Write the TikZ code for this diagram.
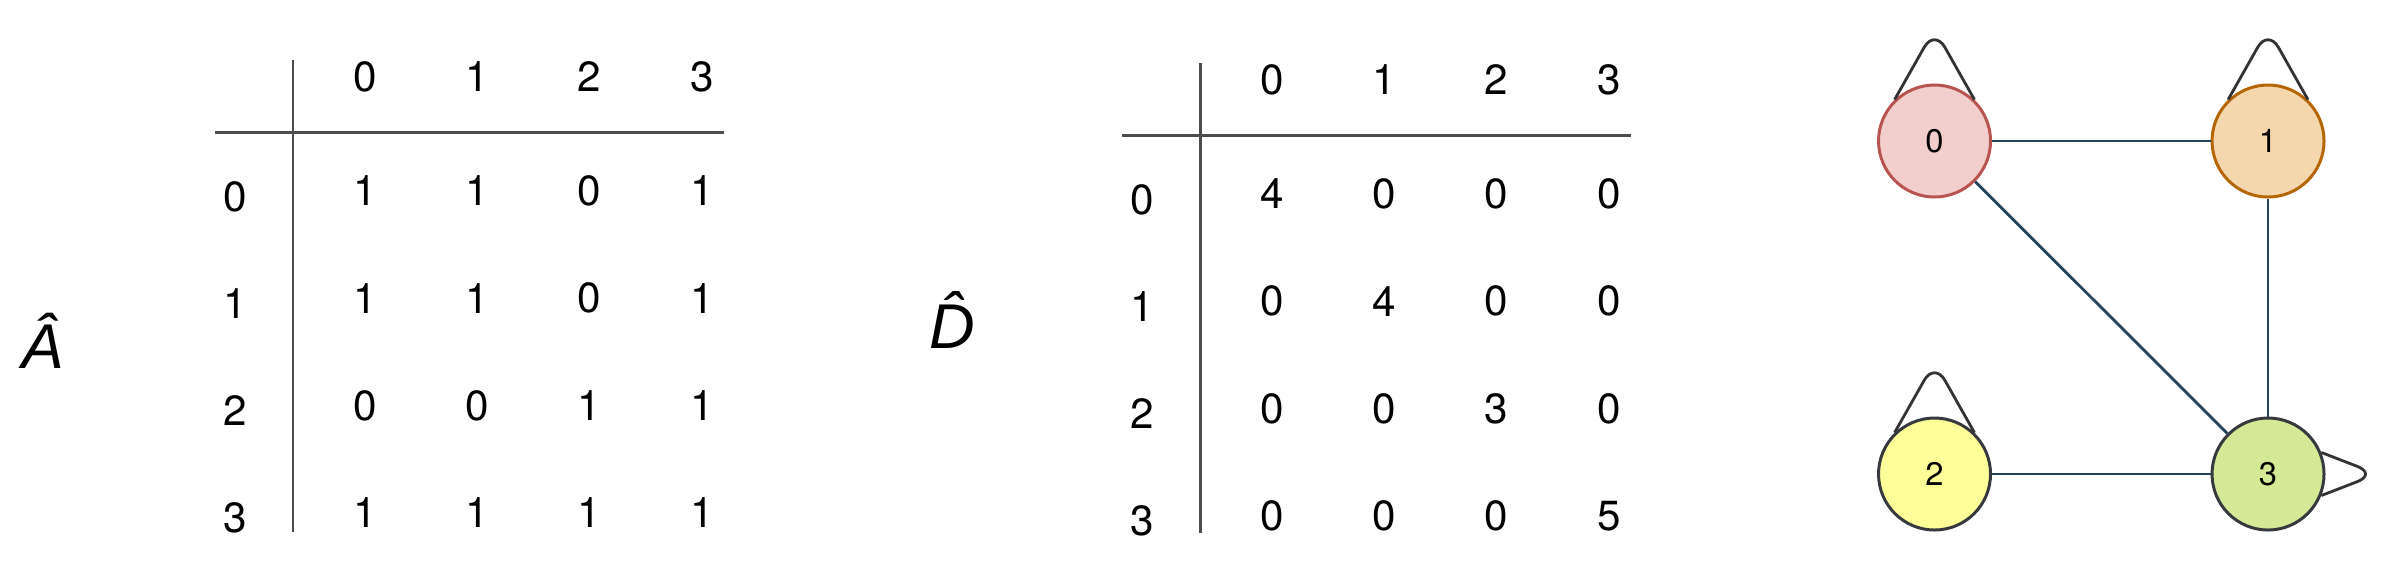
\documentclass[tikz,border=0pt]{standalone}
\usepackage{fontspec}
\setmainfont{TeX Gyre Heros}
\newfontfamily\hatfont{Liberation Sans}
\usetikzlibrary{calc}

\definecolor{edgeblue}{HTML}{23445D}
\definecolor{loopgray}{HTML}{333333}
\definecolor{rulegray}{HTML}{4D4D4D}
\definecolor{redfill}{HTML}{F2CFCC}
\definecolor{reddraw}{HTML}{B85450}
\definecolor{orangefill}{HTML}{F5D7AD}
\definecolor{orangedraw}{HTML}{B46504}
\definecolor{yellowfill}{HTML}{FFFF99}
\definecolor{greenfill}{HTML}{D4E996}
\definecolor{darkdraw}{HTML}{36393D}

\tikzset{
	cell/.style={inner sep=0pt, font=\fontsize{12}{14}\selectfont},
	matname/.style={inner sep=0pt, anchor=base, font=\fontsize{18}{20}\selectfont\hatfont\itshape},
	rule/.style={draw=rulegray, line width=0.85pt},
	vertex/.style={circle, minimum size=1.12cm, inner sep=0pt, line width=0.85pt, font=\fontsize{9.3}{11}\selectfont},
	edge/.style={draw=edgeblue, line width=0.8pt},
	selfloop/.style={draw=loopgray, line width=0.8pt, rounded corners=6pt},
}

\begin{document}
\begin{tikzpicture}
		\useasboundingbox (0,0) rectangle (24,-5.65);
		
		%%%%% A hat %%%%%
		\node[matname] (Ahat) at (0.43,-3.68) {Â};
		\draw[rule] (2.93,-0.60) -- (2.93,-5.32);
		\draw[rule] (2.15,-1.32) -- (7.24,-1.32);
		\foreach \k in {0,1,2,3} {
			\node[cell] (ahead\k) at ({3.65+1.123*\k},-0.77) {\k};
			\node[cell] (arow\k) at (2.35,{-1.97-1.07*\k}) {\k};
		}
		\foreach \row [count=\r from 0] in {{1,1,0,1},{1,1,0,1},{0,0,1,1},{1,1,1,1}} {
			\foreach \v [count=\c from 0] in \row {
				\node[cell] (a\r\c) at ({3.65+1.123*\c},{-1.91-1.073*\r}) {\v};
			}
		}
		
		%%%%% D hat %%%%%
		\node[matname] (Dhat) at (9.52,-3.48) {D̂};
		\begin{scope}[shift={(9.07,-0.03)}]
			\draw[rule] (2.93,-0.60) -- (2.93,-5.30);
			\draw[rule] (2.15,-1.32) -- (7.24,-1.32);
			\foreach \k in {0,1,2,3} {
				\node[cell] (dhead\k) at ({3.65+1.123*\k},-0.77) {\k};
				\node[cell] (drow\k) at (2.35,{-1.97-1.07*\k}) {\k};
			}
			\foreach \row [count=\r from 0] in {{4,0,0,0},{0,4,0,0},{0,0,3,0},{0,0,0,5}} {
				\foreach \v [count=\c from 0] in \row {
					\node[cell] (d\r\c) at ({3.65+1.123*\c},{-1.91-1.073*\r}) {\v};
				}
			}
		\end{scope}
		
		%%%%% graph %%%%%
		\node[vertex, fill=redfill, draw=reddraw] (v0) at (19.345,-1.41) {0};
		\node[vertex, fill=orangefill, draw=orangedraw] (v1) at (22.68,-1.41) {1};
		\node[vertex, fill=yellowfill, draw=darkdraw] (v2) at (19.345,-4.74) {2};
		\node[vertex, fill=greenfill, draw=darkdraw] (v3) at (22.68,-4.74) {3};
		
		\draw[edge] (v0) -- (v1);
		\draw[edge] (v0) -- (v3);
		\draw[edge] (v1) -- (v3);
		\draw[edge] (v2) -- (v3);
		
		\draw[selfloop] (v0.134) -- ($(v0.center)+(0,1.12)$) -- (v0.46);
		\draw[selfloop] (v1.134) -- ($(v1.center)+(0,1.12)$) -- (v1.46);
		\draw[selfloop] (v2.134) -- ($(v2.center)+(0,1.12)$) -- (v2.46);
		\draw[selfloop] (v3.22) -- ($(v3.center)+(1.09,0)$) -- (v3.-22);
	\end{tikzpicture}
\end{document}
